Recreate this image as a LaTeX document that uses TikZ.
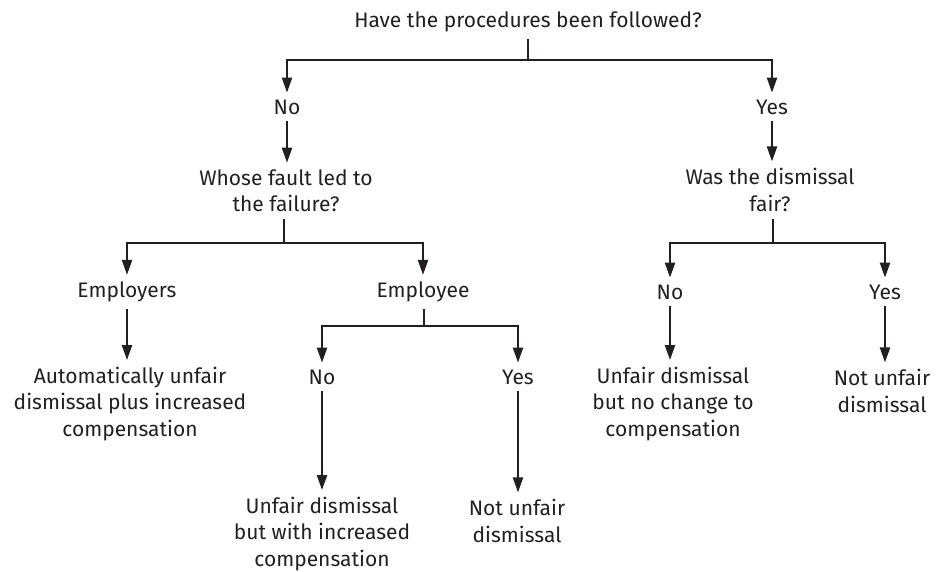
\documentclass[tikz,border=0pt]{standalone}
\usepackage{fontspec}
\setmainfont{Fira Sans}
\usetikzlibrary{arrows.meta}
\definecolor{ink}{RGB}{35,31,32}
\begin{document}
\begin{tikzpicture}[x=1pt,y=-1pt,
  lbl/.style={font=\fontsize{21}{26.5}\selectfont, text=ink, align=center, inner sep=0pt, outer sep=7pt},
  conn/.style={draw=ink, line width=2.2pt},
  arr/.style={conn, -{Triangle[length=15pt,width=10pt]}}]
\useasboundingbox (0,0) rectangle (938,572);
% nodes
\node[lbl] (q1)   at (528,22)  {Have the procedures been followed?};
\node[lbl] (no1)  at (287,107) {No};
\node[lbl] (yes1) at (772,107) {Yes};
\node[lbl] (q2)   at (286,191) {Whose fault led to\\the failure?};
\node[lbl] (q3)   at (770,190) {Was the dismissal\\fair?};
\node[lbl] (emp1) at (127,292) {Employers};
\node[lbl] (emp2) at (423,292) {Employee};
\node[lbl] (no3)  at (670,292) {No};
\node[lbl] (yes3) at (885,292) {Yes};
\node[lbl] (auto) at (130,404) {Automatically unfair\\dismissal plus increased\\compensation};
\node[lbl] (no2)  at (322,377) {No};
\node[lbl] (yes2) at (518,377) {Yes};
\node[lbl] (r1)   at (673,404) {Unfair dismissal\\but no change to\\compensation};
\node[lbl] (r2)   at (882,391) {Not unfair\\dismissal};
\node[lbl] (b1)   at (322,534) {Unfair dismissal\\but with increased\\compensation};
\node[lbl] (b2)   at (517,521) {Not unfair\\dismissal};
% junctions
\coordinate (j1) at (528,60);
\coordinate (j2) at (284,243);
\coordinate (j3) at (773,243);
\coordinate (j4) at (424,326);
% connectors
\draw[conn] (q1.south) -- (j1);
\draw[arr] (j1) -| (no1.north);
\draw[arr] (j1) -| (yes1.north);
\draw[arr] (no1.south) -- (q2.north -| no1.south);
\draw[arr] (yes1.south) -- (q3.north -| yes1.south);
\draw[conn] (q2.south -| j2) -- (j2);
\draw[arr] (j2) -| (emp1.north);
\draw[arr] (j2) -| (emp2.north);
\draw[conn] (q3.south -| j3) -- (j3);
\draw[arr] (j3) -| (no3.north);
\draw[arr] (j3) -| (yes3.north);
\draw[arr] (emp1.south) -- (auto.north -| emp1.south);
\draw[conn] (emp2.south -| j4) -- (j4);
\draw[arr] (j4) -| (no2.north);
\draw[arr] (j4) -| (yes2.north);
\draw[arr] (no2.south) -- (b1.north -| no2.south);
\draw[arr] (yes2.south) -- (b2.north -| yes2.south);
\draw[arr] (no3.south) -- (r1.north -| no3.south);
\draw[arr] (yes3.south) -- (r2.north -| yes3.south);
\end{tikzpicture}
\end{document}
